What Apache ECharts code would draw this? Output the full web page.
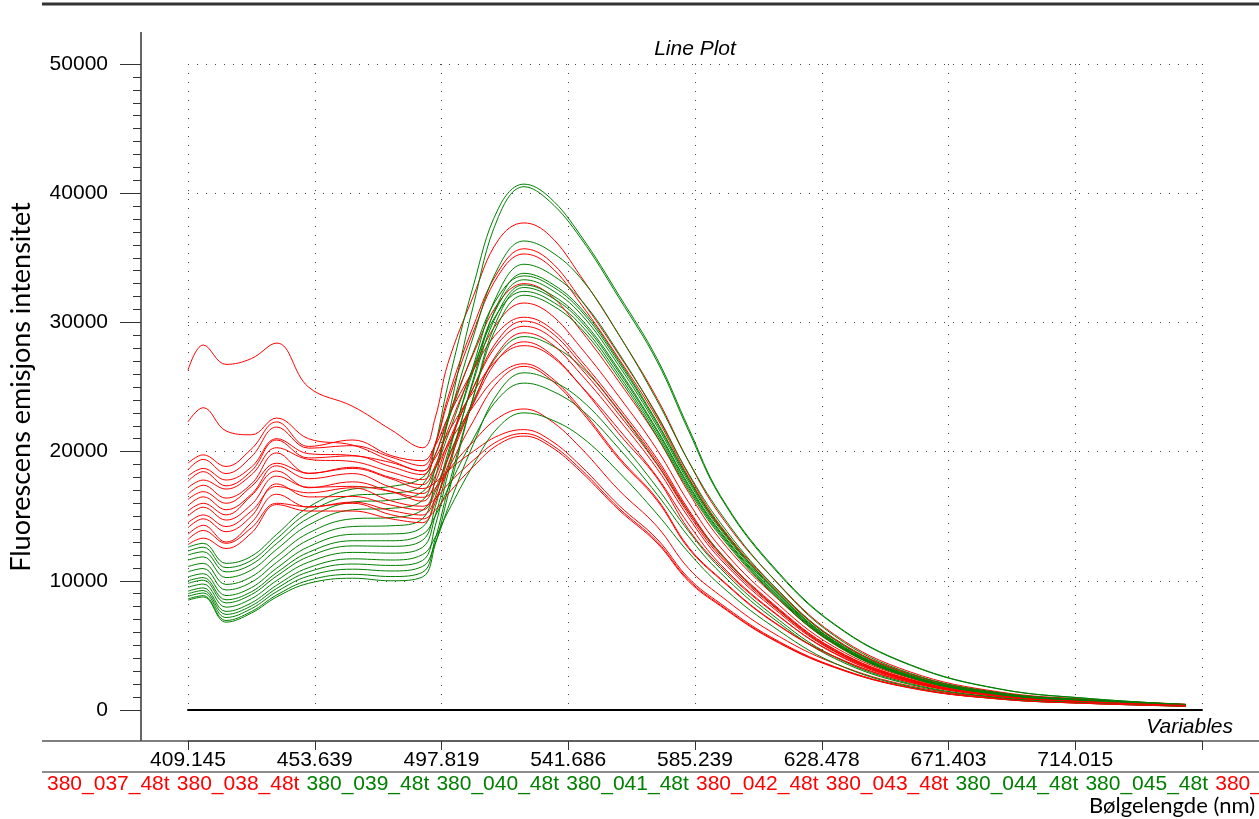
<!DOCTYPE html>
<html><head><meta charset="utf-8">
<script src="https://cdn.jsdelivr.net/npm/echarts@6/dist/echarts.min.js"></script>
<style>html,body{margin:0;padding:0;background:#fff}#c{width:1259px;height:819px}</style>
</head><body><div id="c"></div>
<script>
// variable position along the x axis (in tick units: 0 = 409.145 nm, 1 = 453.639 nm, ...)
const xPos = [0, 0.12, 0.3, 0.5, 0.7, 0.95, 1.3, 1.6, 1.85, 1.95, 2.05, 2.25, 2.45, 2.65, 2.85, 3.1, 3.4, 3.7, 3.95, 4.2, 4.6, 5.1, 5.7, 6.4, 7.1, 7.87];
const tickLabels = ['409.145', '453.639', '497.819', '541.686', '585.239', '628.478', '671.403', '714.015', ''];

const sampleNames = ['380_037_48t','380_038_48t','380_039_48t','380_040_48t','380_041_48t','380_042_48t','380_043_48t','380_044_48t','380_045_48t','380_046_48t',
  '380_047_48t','380_048_48t','380_049_48t','380_050_48t','380_051_48t','380_052_48t','380_053_48t','380_054_48t','380_055_48t','380_056_48t',
  '380_057_48t','380_058_48t','380_059_48t','380_060_48t','380_061_48t','380_062_48t','380_063_48t','380_064_48t','380_065_48t','380_066_48t',
  '380_067_48t','380_068_48t'];
const sampleGroup = ['r','r','g','g','g','r','r','g','g','r',
  'r','g','r','g','r','g','r','g','r','g',
  'r','g','r','g','r','g','r','g','r','g',
  'r','r'];

const s037 = [26300, 28250, 26750, 27200, 28400, 25000, 23500, 21700, 20300, 22600, 26800, 32000, 36400, 37700, 36760, 33550, 29030, 24130, 19230, 15080, 10370, 5840, 2940, 1400, 830, 450];
const s038 = [22300, 23400, 21600, 21300, 22600, 21000, 20500, 19300, 18500, 20500, 24180, 29680, 33980, 35700, 34810, 31770, 27490, 22850, 18210, 14280, 9820, 5530, 2780, 1320, 790, 430];
const s039 = [12600, 12900, 11350, 11900, 13600, 15700, 17100, 17300, 18000, 19750, 22370, 27670, 32040, 33600, 32930, 30910, 26880, 22180, 17810, 14110, 9580, 5310, 2620, 1240, 740, 400];
const s040 = [12300, 12600, 11020, 11580, 13250, 15270, 16600, 16770, 17440, 20510, 25120, 32790, 38840, 40700, 39700, 36700, 32100, 27200, 21800, 16600, 11300, 6650, 3500, 1640, 900, 420];
const s041 = [12000, 12250, 10690, 11260, 12890, 14840, 16100, 16240, 16890, 18630, 21230, 26510, 30850, 32400, 31750, 29810, 25920, 21380, 17170, 13610, 9230, 5120, 2530, 1200, 710, 390];
const s042 = [19100, 19750, 18850, 20200, 22300, 20400, 20900, 19700, 19300, 20450, 22630, 26290, 29290, 30400, 29640, 27060, 23410, 19460, 15500, 12160, 8360, 4710, 2370, 1120, 670, 360];
const s043 = [18600, 19400, 18300, 19600, 21900, 20270, 20460, 19580, 18910, 20600, 23830, 29240, 33660, 35300, 34420, 31420, 27180, 22590, 18000, 14120, 9710, 5470, 2750, 1310, 780, 420];
const s044 = [11600, 11850, 10250, 10840, 12440, 14310, 15500, 15610, 16230, 18640, 22250, 28870, 34290, 36300, 35570, 33400, 29040, 23960, 19240, 15250, 10350, 5740, 2830, 1340, 800, 440];
const s045 = [11100, 11350, 9720, 10310, 11890, 13690, 14800, 14890, 15470, 17080, 19500, 23930, 27560, 28900, 28320, 26590, 23120, 19070, 15320, 12140, 8240, 4570, 2250, 1070, 640, 350];
const s046 = [18100, 18700, 17800, 18800, 21000, 19840, 19700, 19160, 18510, 19500, 21420, 24610, 27230, 28200, 27500, 25100, 21710, 18050, 14380, 11280, 7760, 4370, 2200, 1040, 620, 340];
const s047 = [17700, 18450, 17350, 18500, 20900, 19510, 19670, 18840, 18220, 19750, 22650, 27530, 31520, 33000, 32180, 29370, 25410, 21120, 16830, 13200, 9080, 5120, 2570, 1220, 730, 400];
const s048 = [10700, 10950, 9290, 9890, 11430, 13160, 14200, 14260, 14810, 17890, 22520, 31250, 38190, 40500, 39400, 36500, 31900, 27000, 21600, 16500, 11200, 6600, 3460, 1620, 890, 410];
const s049 = [17200, 17800, 17100, 18200, 20300, 19400, 19230, 18410, 17830, 18750, 20520, 23480, 25900, 26800, 25860, 23320, 19560, 16350, 12600, 10180, 6970, 4150, 2140, 1070, 640, 380];
const s050 = [10300, 10550, 8860, 9470, 10980, 12630, 13600, 13630, 14160, 16460, 19900, 26220, 31390, 33300, 32630, 30640, 26640, 21980, 17650, 13990, 9490, 5260, 2600, 1230, 730, 400];
const s051 = [16700, 17400, 16400, 17500, 19900, 18300, 18790, 17990, 17440, 18900, 21660, 26300, 30090, 31500, 30710, 28040, 24260, 20160, 16070, 12600, 8660, 4880, 2460, 1170, 690, 380];
const s052 = [10000, 10250, 8530, 9150, 10630, 12200, 13100, 13100, 13600, 15000, 17110, 20970, 24130, 25300, 24790, 23280, 20240, 16700, 13410, 10630, 7210, 4000, 1970, 940, 560, 300];
const s053 = [16300, 16900, 16000, 17300, 19100, 18330, 18700, 17900, 17140, 17600, 18510, 20010, 21240, 21700, 20940, 18880, 15840, 13240, 10200, 8250, 5640, 3360, 1740, 870, 520, 300];
const s054 = [9800, 10050, 8290, 8930, 10370, 11870, 12700, 12670, 13140, 15700, 19550, 26600, 32360, 34500, 33810, 31740, 27600, 22770, 18290, 14490, 9830, 5450, 2690, 1280, 760, 410];
const s055 = [15800, 16500, 15500, 16700, 18900, 17900, 18300, 17250, 16750, 18100, 20640, 24910, 28410, 29700, 28960, 26430, 22870, 19010, 15150, 11880, 8170, 4600, 2320, 1100, 650, 360];
const s056 = [9500, 9750, 7960, 8610, 10020, 11440, 12200, 12140, 12590, 15030, 18680, 25380, 30870, 32900, 32240, 30270, 26320, 21710, 17440, 13820, 9380, 5200, 2570, 1220, 720, 390];
const s057 = [15400, 16000, 15100, 16600, 18500, 17200, 17660, 16930, 16460, 17150, 18510, 20770, 22620, 23300, 22480, 20270, 17010, 14210, 10950, 8850, 6060, 3610, 1860, 930, 560, 330];
const s058 = [9200, 9450, 7630, 8290, 9660, 11010, 11700, 11610, 12030, 13350, 15320, 18940, 21900, 23000, 22540, 21160, 18400, 15180, 12190, 9660, 6560, 3630, 1790, 850, 510, 280];
const s059 = [15000, 15700, 14700, 15900, 18100, 17240, 17310, 16900, 16160, 17600, 20340, 24940, 28710, 30100, 29350, 26790, 23180, 19260, 15350, 12040, 8280, 4670, 2350, 1110, 660, 360];
const s060 = [9000, 9250, 7400, 8060, 9410, 10690, 11300, 11190, 11570, 14240, 18240, 25580, 31580, 33800, 33120, 31100, 27040, 22310, 17910, 14200, 9630, 5340, 2640, 1250, 740, 410];
const s061 = [14500, 15100, 14200, 15400, 17300, 16810, 17200, 16190, 15770, 16350, 17460, 19320, 20840, 21400, 20650, 18620, 15620, 13050, 10060, 8130, 5560, 3320, 1710, 860, 510, 300];
const s062 = [8800, 9050, 7160, 7840, 9160, 10360, 10900, 10760, 11110, 12910, 15610, 20550, 24600, 26100, 25580, 24010, 20880, 17230, 13830, 10960, 7440, 4120, 2040, 970, 570, 310];
const s063 = [14100, 14800, 13800, 15000, 17500, 16490, 16530, 15860, 15480, 16850, 19390, 23680, 27200, 28500, 27650, 25080, 21380, 17960, 13970, 11120, 7700, 4420, 2240, 1080, 650, 370];
const s064 = [8600, 8850, 6930, 7620, 8900, 10030, 10500, 10330, 10660, 13230, 17090, 24170, 29960, 32100, 31460, 29530, 25680, 21190, 17010, 13480, 9150, 5070, 2500, 1190, 710, 390];
const s065 = [13600, 14300, 13000, 14500, 16700, 15700, 16090, 15440, 15090, 16300, 18540, 22340, 25450, 26600, 25670, 23140, 19420, 16230, 12500, 10110, 6920, 4120, 2130, 1060, 640, 370];
const s066 = [8500, 8750, 6800, 7500, 8750, 9800, 10200, 10000, 10300, 12810, 16570, 24190, 30460, 32700, 32050, 30080, 26160, 21580, 17330, 13730, 9320, 5170, 2550, 1210, 720, 390];
const s067 = [13200, 13900, 12900, 14100, 16000, 15730, 16000, 15120, 14790, 15450, 16710, 18830, 20560, 21200, 20460, 18440, 15480, 12930, 9960, 8060, 5510, 3290, 1700, 850, 510, 300];
const s068 = [12800, 13300, 12500, 13700, 15900, 15400, 15400, 14800, 14500, 16050, 18910, 23760, 27730, 29200, 28470, 25990, 22480, 18690, 14890, 11680, 8030, 4530, 2280, 1080, 640, 350];

const spectra = [s037, s038, s039, s040, s041, s042, s043, s044, s045, s046, s047, s048, s049, s050, s051, s052,
  s053, s054, s055, s056, s057, s058, s059, s060, s061, s062, s063, s064, s065, s066, s067, s068];

const groupColor = { r: '#ff0000', g: '#008000' };
const ARIAL = "'Liberation Sans', Arial, sans-serif";

const series = spectra.map((vals, i) => ({
  name: sampleNames[i],
  type: 'line',
  data: vals.map((v, j) => [xPos[j], v]),
  showSymbol: false,
  smooth: 0.4,
  silent: true,
  lineStyle: { width: 1, color: groupColor[sampleGroup[i]] },
  itemStyle: { color: groupColor[sampleGroup[i]] }
}));

// sample-name row under the axis (first names, coloured by group)
const rowCount = 10;
const rowStride = 129.8;
const rowTexts = sampleNames.slice(0, rowCount).map((n, i) => ({
  type: 'text', silent: true, x: 47 + i * rowStride, y: 784,
  style: { text: n, font: '21px ' + ARIAL, fill: groupColor[sampleGroup[i]], align: 'left', verticalAlign: 'middle' }
}));

const chart = echarts.init(document.getElementById('c'), null, { renderer: 'canvas' });
chart.setOption({
  animation: false,
  backgroundColor: '#ffffff',
  grid: { left: 188, right: 57, top: 64, bottom: 109, containLabel: false },
  xAxis: [
    {
      type: 'value', min: 0, max: 8, interval: 1, position: 'bottom',
      axisLine: { show: true, onZero: false, lineStyle: { color: '#000', width: 2 } },
      axisTick: { show: false }, axisLabel: { show: false },
      splitLine: { show: true, lineStyle: { color: '#444', width: 1, type: [1, 8] } }
    },
    {
      type: 'value', min: 0, max: 8, interval: 1, position: 'bottom', offset: 31,
      axisLine: { show: true, onZero: false, lineStyle: { color: '#555', width: 1.5 } },
      axisTick: { show: true, length: 9, lineStyle: { color: '#333', width: 1 } },
      axisLabel: { show: true, margin: 9, fontSize: 21, fontFamily: ARIAL, color: '#000',
        formatter: v => tickLabels[Math.round(v)] || '' },
      splitLine: { show: false }
    }
  ],
  yAxis: [
    {
      type: 'value', min: 0, max: 50000, interval: 10000, position: 'left', offset: 47,
      name: 'Fluorescens emisjons intensitet', nameLocation: 'middle', nameRotate: 90, nameGap: 106,
      nameTextStyle: { fontFamily: 'Lato', fontSize: 27, color: '#000' },
      axisLine: { show: true, onZero: false, lineStyle: { color: '#666', width: 2 } },
      axisTick: { show: true, length: 21, lineStyle: { color: '#333', width: 1 } },
      minorTick: { show: true, splitNumber: 10, length: 8, lineStyle: { color: '#333', width: 1 } },
      axisLabel: { show: true, margin: 33, fontSize: 21, fontFamily: ARIAL, color: '#000',
        formatter: v => String(v) },
      splitLine: { show: true, lineStyle: { color: '#444', width: 1, type: [1, 8] } },
      minorSplitLine: { show: false }
    }
  ],
  graphic: { elements: [
    { type: 'line', silent: true, shape: { x1: 42, y1: 4, x2: 1259, y2: 4 }, style: { stroke: '#333', lineWidth: 3 } },
    { type: 'line', silent: true, shape: { x1: 141, y1: 32, x2: 141, y2: 741 }, style: { stroke: '#666', lineWidth: 2 } },
    { type: 'line', silent: true, shape: { x1: 42, y1: 741, x2: 1259, y2: 741 }, style: { stroke: '#555', lineWidth: 1.5 } },
    { type: 'line', silent: true, shape: { x1: 42, y1: 772, x2: 1259, y2: 772 }, style: { stroke: '#666', lineWidth: 1.5 } },
    { type: 'text', silent: true, x: 695, y: 49, style: { text: 'Line Plot', font: 'italic 21px ' + ARIAL, fill: '#000', align: 'center', verticalAlign: 'middle' } },
    { type: 'text', silent: true, x: 1233, y: 727, style: { text: 'Variables', font: 'italic 21px ' + ARIAL, fill: '#000', align: 'right', verticalAlign: 'middle' } },
    { type: 'text', silent: true, x: 1255, y: 806, style: { text: 'Bølgelengde (nm)', font: "22px Lato", fill: '#000', align: 'right', verticalAlign: 'middle' } }
  ].concat(rowTexts) },
  series: series
});
</script>
</body></html>
